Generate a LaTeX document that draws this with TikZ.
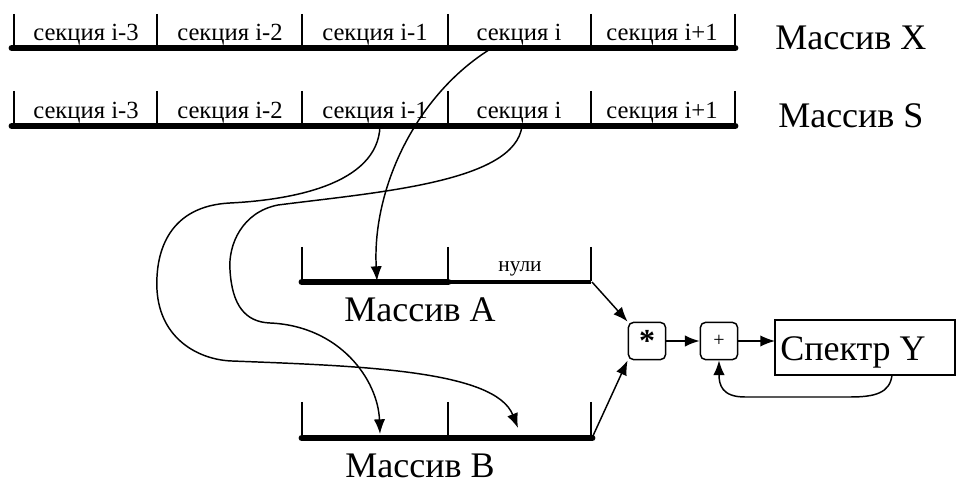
\documentclass[tikz,border=0pt]{standalone}
\usepackage{fontspec}
\setmainfont{Liberation Serif}
\usetikzlibrary{arrows.meta}
\begin{document}
\begin{tikzpicture}[x=0.75pt,y=-0.75pt,
  thickbar/.style={line width=5.2pt,line cap=round},
  midbar/.style={line width=2.6pt},
  tick/.style={line width=1.1pt},
  conn/.style={line width=1.1pt,-{Latex[length=11pt,width=8.5pt]}},
  seclbl/.style={font=\fontsize{18.5}{19}\selectfont,inner sep=0pt,anchor=base},
  biglbl/.style={font=\fontsize{27}{28}\selectfont,inner sep=0pt,anchor=base},
  opbox/.style={draw,line width=1.1pt,rounded corners=4pt,minimum width=28pt,minimum height=28pt,inner sep=0pt}]
\useasboundingbox (0,0) rectangle (957,484);
% Array X
\foreach \xx in {14,157,302,448,591,735} \draw[tick] (\xx,14) -- (\xx,46);
\draw[thickbar] (12,48) -- (735,48);
\node[seclbl] (x1) at (86,41) {секция i-3};
\node[seclbl] (x2) at (230,41) {секция i-2};
\node[seclbl] (x3) at (375,41) {секция i-1};
\node[seclbl] (x4) at (519,41) {секция i};
\node[seclbl] (x5) at (662,41) {секция i+1};
\node[biglbl,anchor=base west] (mx) at (775,50) {Массив X};
% Array S
\foreach \xx in {14,157,302,448,591,735} \draw[tick] (\xx,91) -- (\xx,124);
\draw[thickbar] (12,126) -- (735,126);
\node[seclbl] (s1) at (86,119) {секция i-3};
\node[seclbl] (s2) at (230,119) {секция i-2};
\node[seclbl] (s3) at (375,119) {секция i-1};
\node[seclbl] (s4) at (519,119) {секция i};
\node[seclbl] (s5) at (662,119) {секция i+1};
\node[biglbl,anchor=base west] (ms) at (778,128) {Массив S};
% Array A
\foreach \xx in {302,448,591} \draw[tick] (\xx,247) -- (\xx,281);
\draw[thickbar] (302,282) -- (448,282);
\draw[midbar] (448,282) -- (591,282);
\node[font=\fontsize{16}{17}\selectfont,inner sep=0pt,anchor=base] (zeros) at (520,272) {нули};
\node[biglbl] (ma) at (420,322) {Массив A};
\coordinate (aend) at (592,282);
% Array B
\foreach \xx in {302,448,591} \draw[tick] (\xx,402) -- (\xx,436);
\draw[thickbar] (302,438) -- (592,438);
\node[biglbl] (mb) at (420,478) {Массив B};
\coordinate (bend) at (592,438);
% ops
\node[opbox,font=\fontsize{24}{24}\selectfont\bfseries] (mul) at (647,341) {\raisebox{-4pt}{*}};
\node[opbox,font=\fontsize{15}{15}\selectfont] (add) at (719,341) {+};
\draw[line width=1.1pt] (775,320) rectangle (955,375);
\node[biglbl,anchor=base west] (spec) at (780,361) {Спектр Y};
\coordinate (sp) at (775,341);
\coordinate (spb) at (892,375);
% connectors
\draw[conn] (aend) -- (mul.north west);
\draw[conn] (bend) -- (mul.south west);
\draw[conn] (mul) -- (add);
\draw[conn] (add) -- (sp);
\draw[conn] (spb) .. controls (890,393) and (875,397) .. (850,397) -- (745,397) .. controls (722,397) and (719,385) .. (add.south);
% curves
\coordinate (cx) at (492,48);
\coordinate (ca) at (377,281);
\draw[conn] (cx) .. controls (415,95) and (372,190) .. (ca);
\coordinate (cs1) at (380,126);
\coordinate (cb2) at (518,428);
\draw[conn] (cs1) .. controls (378,185) and (290,200) .. (230,203) .. controls (170,206) and (155,250) .. (157,290) .. controls (160,340) and (200,360) .. (232,361) .. controls (360,366) and (495,370) .. (cb2);
\coordinate (cs2) at (522,126);
\coordinate (cb1) at (380,434);
\draw[conn] (cs2) .. controls (515,182) and (380,192) .. (278,205) .. controls (242,212) and (228,245) .. (230,270) .. controls (232,305) and (245,322) .. (270,323) .. controls (340,326) and (378,380) .. (cb1);
\end{tikzpicture}
\end{document}
